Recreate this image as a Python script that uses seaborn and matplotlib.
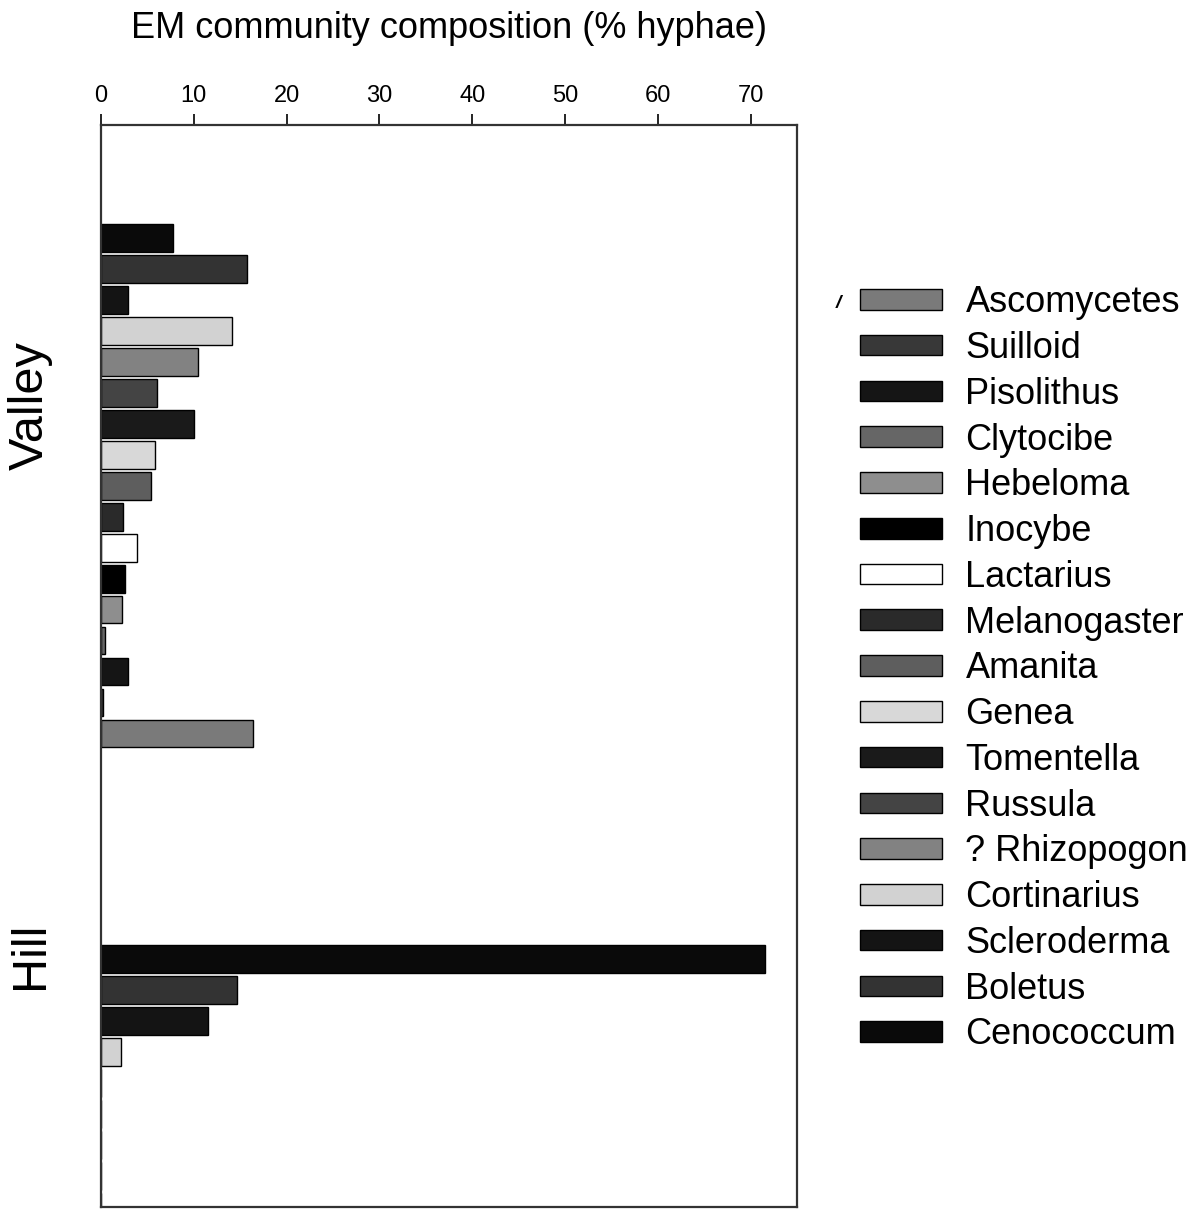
import pandas as pd
import seaborn as sns
import matplotlib.pyplot as plt
from matplotlib.patches import Patch

# taxa in legend order (top to bottom)
taxa = ['Ascomycetes', 'Suilloid', 'Pisolithus', 'Clytocibe', 'Hebeloma',
        'Inocybe', 'Lactarius', 'Melanogaster', 'Amanita', 'Genea',
        'Tomentella', 'Russula', '? Rhizopogon', 'Cortinarius',
        'Scleroderma', 'Boletus', 'Cenococcum']
grays = ['#7a7a7a', '#383838', '#151515', '#666666', '#8e8e8e',
         '#000000', '#ffffff', '#2a2a2a', '#5e5e5e', '#d8d8d8',
         '#1a1a1a', '#444444', '#828282', '#d2d2d2',
         '#141414', '#333333', '#0a0a0a']
sites = ['Valley', 'Hill']
valley = [16.4, 0.2, 2.9, 0.4, 2.3, 2.6, 3.9, 2.4, 5.4, 5.8,
          10.0, 6.0, 10.4, 14.1, 2.9, 15.7, 7.8]
hill = [0, 0, 0, 0, 0, 0, 0, 0, 0, 0,
        0, 0, 0, 2.1, 11.5, 14.7, 71.5]

df = pd.DataFrame({
    'site': ['Valley'] * len(taxa) + ['Hill'] * len(taxa),
    'taxon': taxa + taxa,
    'pct': valley + hill,
})
palette = dict(zip(taxa, grays))

sns.set_style('white')
plt.rcParams['font.family'] = ['Liberation Sans', 'DejaVu Sans']
plt.rcParams['text.color'] = 'black'
plt.rcParams['xtick.color'] = 'black'

fig = plt.figure(figsize=(11.96, 12.09), dpi=100)
ax = fig.add_axes([0.0845, 0.0017, 0.5819, 0.8949])

sns.barplot(data=df, x='pct', y='site', hue='taxon', order=sites,
            hue_order=taxa[::-1], palette=palette, orient='h',
            width=0.73, gap=0.1, edgecolor='black', linewidth=1,
            legend=False, ax=ax)

ax.set_ylim(1.0, -0.5)
ax.set_xlim(0, 75)
ax.xaxis.tick_top()
ax.xaxis.set_label_position('top')
ax.set_xticks(range(0, 80, 10))
ax.tick_params(axis='x', direction='out', length=8, width=1.2, pad=5,
               labelsize=17, top=True, bottom=False, colors='black')
ax.set_yticks([])
ax.set_ylabel('')
ax.set_xlabel('EM community composition (% hyphae)', fontsize=26,
              labelpad=34, color='black')
for s in ax.spines.values():
    s.set_visible(True)
    s.set_color('#333333')
    s.set_linewidth(1.6)

ax.text(-0.102, 0.741, 'Valley', transform=ax.transAxes, rotation=90,
        ha='center', va='center', fontsize=35)
ax.text(-0.102, 0.233, 'Hill', transform=ax.transAxes, rotation=90,
        ha='center', va='center', fontsize=35)

handles = [Patch(facecolor=palette[t], edgecolor='black', linewidth=1, label=t)
           for t in taxa]
leg = fig.legend(handles=handles, loc='upper left', bbox_to_anchor=(0.707, 0.776),
                 frameon=False, fontsize=26, handlelength=2.28, handleheight=0.5,
                 handletextpad=0.64, labelspacing=0.298, borderaxespad=0)
fig.text(0.699, 0.745, '/', fontsize=14, style='italic', weight='bold')

fig.savefig('out.png', dpi=100)
